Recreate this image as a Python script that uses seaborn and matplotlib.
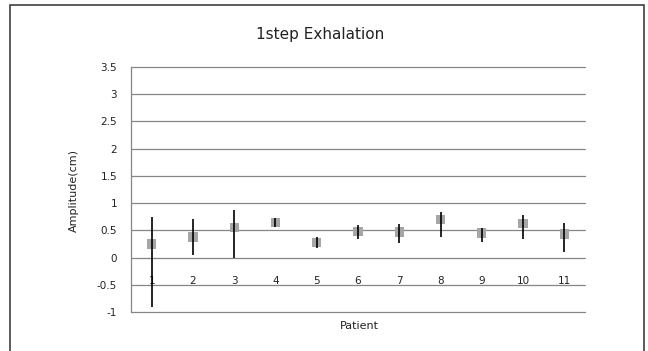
import numpy as np
import pandas as pd
import matplotlib
matplotlib.use("Agg")
import matplotlib.pyplot as plt
import seaborn as sns
from matplotlib.patches import Rectangle

patients = ["1", "2", "3", "4", "5", "6", "7", "8", "9", "10", "11"]
means = [0.25, 0.38, 0.55, 0.64, 0.28, 0.48, 0.47, 0.70, 0.45, 0.63, 0.43]
highs = [0.74, 0.70, 0.87, 0.72, 0.37, 0.59, 0.61, 0.83, 0.54, 0.78, 0.64]
lows = [-0.91, 0.04, 0.00, 0.56, 0.17, 0.34, 0.26, 0.38, 0.28, 0.34, 0.10]
yticks = [-1, -0.5, 0, 0.5, 1, 1.5, 2, 2.5, 3, 3.5]
ytick_labels = ["-1", "-0.5", "0", "0.5", "1", "1.5", "2", "2.5", "3", "3.5"]

sns.set_style("white")
plt.rcParams['font.family'] = ['DejaVu Sans']

df = pd.DataFrame({"pos": np.arange(len(patients)), "mean": means,
                   "low": lows, "high": highs})

fig = plt.figure(figsize=(6.48, 3.51), dpi=100)
fig.patches.append(Rectangle((10 / 648, -0.05), 634 / 648, 1 - 5 / 351 + 0.05,
                             transform=fig.transFigure, fill=False,
                             edgecolor="#404040", linewidth=1.2))
ax = fig.add_axes([131 / 648, 1 - 312 / 351, 454 / 648, 245 / 351])

sns.scatterplot(data=df, x="pos", y="mean", marker="s", s=45, color="#a6a6a6",
                edgecolor="none", ax=ax, zorder=3, legend=False)
ax.vlines(df["pos"], df["low"], df["high"], color="black", linewidth=1.2, zorder=4)

ax.set_xlim(-0.5, len(patients) - 0.5)
ax.set_ylim(-1, 3.5)
ax.set_yticks(yticks)
ax.set_yticklabels(ytick_labels)
ax.set_xticks(df["pos"])
ax.set_xticklabels(patients)
ax.yaxis.grid(True, color="#868686", linewidth=0.9, zorder=0)
for gl in ax.get_ygridlines():
    gl.set_clip_on(False)
ax.set_axisbelow(True)
for side in ["top", "right"]:
    ax.spines[side].set_visible(False)
ax.spines["left"].set_color("#868686")
ax.spines["left"].set_linewidth(0.9)
ax.spines["bottom"].set_position(("data", 0))
ax.spines["bottom"].set_visible(False)
ax.tick_params(axis="x", length=0, pad=13, labelsize=7.5, labelcolor="#222222")
ax.tick_params(axis="y", length=0, pad=10, labelsize=7.5, labelcolor="#222222")

ax.set_xlabel("")
ax.set_ylabel("")
fig.text(359 / 648, 1 - 326 / 351, "Patient", ha="center", va="center",
         fontsize=8, color="#222222")
fig.text(74 / 648, 1 - 190 / 351, "Amplitude(cm)", ha="center", va="center",
         rotation=90, fontsize=8, color="#222222")
fig.text(320 / 648, 1 - 34 / 351, "1step Exhalation", ha="center", va="center",
         fontsize=11, color="#222222")

fig.savefig("out.png", dpi=100)
